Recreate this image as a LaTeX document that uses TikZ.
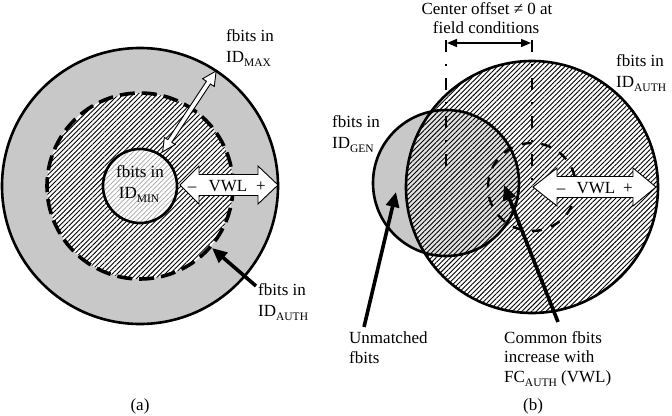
\documentclass[tikz,border=0pt]{standalone}
\usepackage{fontspec}
\setmainfont{Liberation Serif}
\usetikzlibrary{arrows.meta,patterns.meta,calc}
\definecolor{fillgray}{RGB}{200,200,200}
\definecolor{lightgray2}{RGB}{226,226,226}
\definecolor{hatchgray}{RGB}{165,165,165}
\newcommand\subt[1]{\raisebox{-0.28em}{\fontsize{11.5}{12}\selectfont #1}}
\begin{document}
\begin{tikzpicture}[x=1pt,y=-1pt,
  lbl/.style={inner sep=0pt, font=\fontsize{17}{20}\selectfont},
  lblw/.style={lbl, anchor=base west},
  lblc/.style={lbl, anchor=base},
  hatch/.style={pattern={Lines[angle=45,distance=3.4pt,line width=0.9pt]}, pattern color=black},
  lighthatch/.style={pattern={Lines[angle=45,distance=3.4pt,line width=0.7pt]}, pattern color=hatchgray},
  ring/.style={line width=2.6pt},
  pointer/.style={line width=3.6pt, -{Triangle[length=15pt,width=13pt]}},
  vwl/.style={fill=white, draw=black, line width=0.9pt, line join=miter},
  dashdot/.style={line width=1.8pt, dash pattern=on 12pt off 12pt on 2pt off 12pt},
]
\useasboundingbox (0,0) rectangle (672,415);
\fill[white] (0,0) rectangle (672,415);

% ---------------- panel (a) ----------------
\coordinate (ca) at (140,186);
\fill[fillgray] (ca) circle[radius=138];
\draw[ring] (ca) circle[radius=138];
\fill[white] (ca) circle[radius=93];
\path[hatch] (ca) circle[radius=93];
\draw[line width=3.6pt, dash pattern=on 15pt off 7pt] (ca) circle[radius=93];
\fill[white] (ca) circle[radius=37];
\path[lighthatch] (ca) circle[radius=37];
\draw[ring] (ca) circle[radius=37];

% VWL double arrow (a)
\path[vwl] (180,185) -- (199,166) -- (199,174.5) -- (258,174.5) -- (258,166)
  -- (278,185) -- (258,204) -- (258,195.5) -- (199,195.5) -- (199,204) -- cycle;
\node[lblc] (vwlAm) at (192,191) {–};
\node[lblc] (vwlA) at (228,191) {VWL};
\node[lblc] (vwlAp) at (261,191) {+};

% hollow double arrow to ID_MAX
\begin{scope}[shift={(ca)}, rotate=56.5]
  \path[vwl] (41,0) -- (54,-6.5) -- (54,-2.4) -- (124,-2.4) -- (124,-7)
    -- (138,0) -- (124,7) -- (124,2.4) -- (54,2.4) -- (54,6.5) -- cycle;
\end{scope}

\node[lblc] (minA1) at (140,177) {fbits in};
\node[lblc] (minA2) at (139,198) {ID\subt{MIN}};
\node[lblw] (maxA1) at (226,41) {fbits in};
\node[lblw] (maxA2) at (226,62) {ID\subt{MAX}};
\node[lblw] (authA1) at (258,295) {fbits in};
\node[lblw] (authA2) at (258,316) {ID\subt{AUTH}};
\coordinate (pA1) at (256,286);
\coordinate (pA2) at (212,248);
\draw[pointer] (pA1) -- (pA2);
\node[lblc] (capA) at (140,410) {(a)};

% ---------------- panel (b) ----------------
\coordinate (cg) at (446,183);
\coordinate (cb) at (532,187);
\fill[fillgray] (cg) circle[radius=73];
\begin{scope}
  \clip (cb) circle[radius=126];
  \fill[lightgray2] (cg) circle[radius=73];
\end{scope}
\path[hatch] (cb) circle[radius=126];
\draw[ring] (cb) circle[radius=126];
\draw[ring] (cg) circle[radius=73];
\draw[line width=2.4pt, dash pattern=on 10pt off 9.7pt] (cb) circle[radius=44];

\coordinate (dl1) at (446,40);
\coordinate (dl2) at (446,174);
\coordinate (dr1) at (532,40);
\coordinate (dr2) at (532,180);
\draw[dashdot] (dl1) -- (dl2);
\draw[dashdot] (dr1) -- (dr2);
\coordinate (ol) at (447,43);
\coordinate (or) at (531,43);
\draw[line width=1.5pt, {Triangle[length=10pt,width=8pt]}-{Triangle[length=10pt,width=8pt]}] (ol) -- (or);

% VWL double arrow (b)
\path[vwl] (533,187) -- (557,168) -- (557,176.5) -- (633,176.5) -- (633,168)
  -- (656,187) -- (633,206) -- (633,197.5) -- (557,197.5) -- (557,206) -- cycle;
\node[lblc] (vwlBm) at (561,193) {–};
\node[lblc] (vwlB) at (596,193) {VWL};
\node[lblc] (vwlBp) at (628,193) {+};

\node[lblc] (off1) at (487,14) {Center offset ≠ 0 at};
\node[lblc] (off2) at (486,33) {field conditions};
\node[lblw] (authB1) at (616,66) {fbits in};
\node[lblw] (authB2) at (616,87) {ID\subt{AUTH}};
\node[lblw] (genB1) at (332,127) {fbits in};
\node[lblw] (genB2) at (332,148) {ID\subt{GEN}};
\node[lblw] (unm1) at (349,343) {Unmatched};
\node[lblw] (unm2) at (349,363) {fbits};
\node[lblw] (com1) at (504,343) {Common fbits};
\node[lblw] (com2) at (504,362) {increase with};
\node[lblw] (com3) at (504,382) {FC\subt{AUTH} (VWL)};

\coordinate (pB1) at (364,327);
\coordinate (pB2) at (396,192);
\draw[pointer] (pB1) -- (pB2);
\coordinate (pC1) at (558,322);
\coordinate (pC2) at (504,185);
\draw[pointer] (pC1) -- (pC2);
\node[lblc] (capB) at (533,410) {(b)};
\end{tikzpicture}
\end{document}
